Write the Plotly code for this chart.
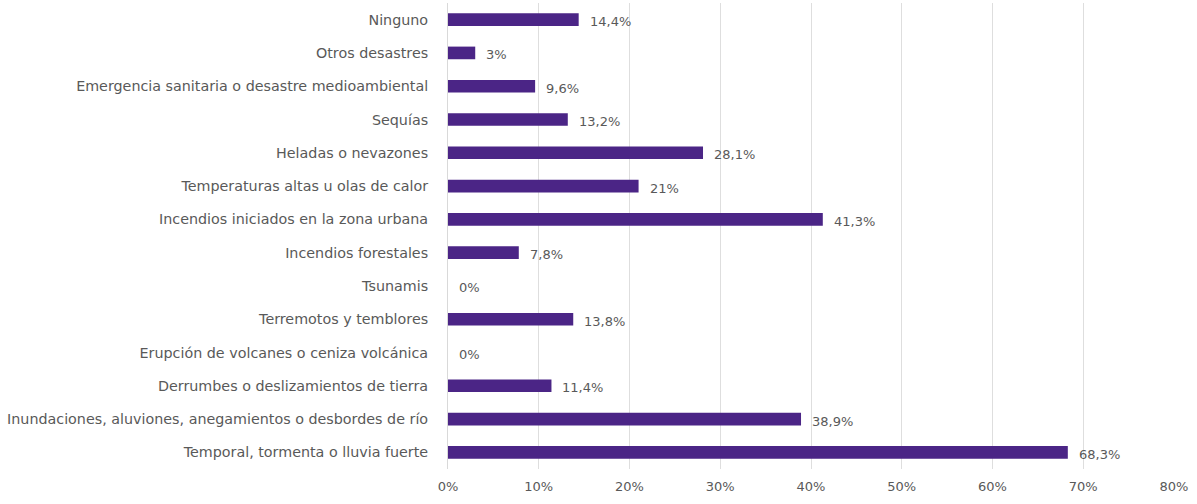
import plotly.graph_objects as go

categories = [
    "Temporal, tormenta o lluvia fuerte",
    "Inundaciones, aluviones, anegamientos o desbordes de río",
    "Derrumbes o deslizamientos de tierra",
    "Erupción de volcanes o ceniza volcánica",
    "Terremotos y temblores",
    "Tsunamis",
    "Incendios forestales",
    "Incendios iniciados en la zona urbana",
    "Temperaturas altas u olas de calor",
    "Heladas o nevazones",
    "Sequías",
    "Emergencia sanitaria o desastre medioambiental",
    "Otros desastres",
    "Ninguno",
]
values = [68.3, 38.9, 11.4, 0, 13.8, 0, 7.8, 41.3, 21, 28.1, 13.2, 9.6, 3, 14.4]
labels = ["68,3%", "38,9%", "11,4%", "0%", "13,8%", "0%", "7,8%", "41,3%", "21%", "28,1%", "13,2%", "9,6%", "3%", "14,4%"]
tick_vals = [0, 10, 20, 30, 40, 50, 60, 70, 80]
tick_text = ["0%", "10%", "20%", "30%", "40%", "50%", "60%", "70%", "80%"]

fig = go.Figure(
    go.Bar(
        x=values,
        y=categories,
        orientation="h",
        marker=dict(color="#4b2586", line=dict(width=0)),
    )
)

for v, c, t in zip(values, categories, labels):
    fig.add_annotation(
        x=v, y=c, text=t, showarrow=False, xanchor="left", yanchor="middle",
        xshift=9, yshift=-2,
        font=dict(family="DejaVu Sans", size=13, color="#595959"),
    )

fig.update_layout(
    width=1197,
    height=504,
    margin=dict(l=448, r=23, t=3, b=35),
    paper_bgcolor="white",
    plot_bgcolor="white",
    bargap=0.62,
    showlegend=False,
    font=dict(family="DejaVu Sans", color="#595959"),
)
fig.update_xaxes(
    range=[0, 80],
    tickvals=tick_vals,
    ticktext=tick_text,
    showgrid=True,
    gridcolor="#dedede",
    gridwidth=1,
    zeroline=False,
    automargin=False,
    tickfont=dict(size=13, color="#595959"),
    ticks="",
    ticklabelstandoff=8,
)
fig.update_yaxes(
    categoryorder="array",
    categoryarray=categories,
    showline=True,
    linecolor="#d9d9d9",
    linewidth=1,
    ticks="",
    automargin=False,
    ticklabelstandoff=16,
    tickfont=dict(size=14.3, color="#595959"),
)

fig.write_html(
    "out.html",
    config={"displayModeBar": False},
    post_script="document.body.style.margin='0';document.body.style.overflow='hidden';",
)
